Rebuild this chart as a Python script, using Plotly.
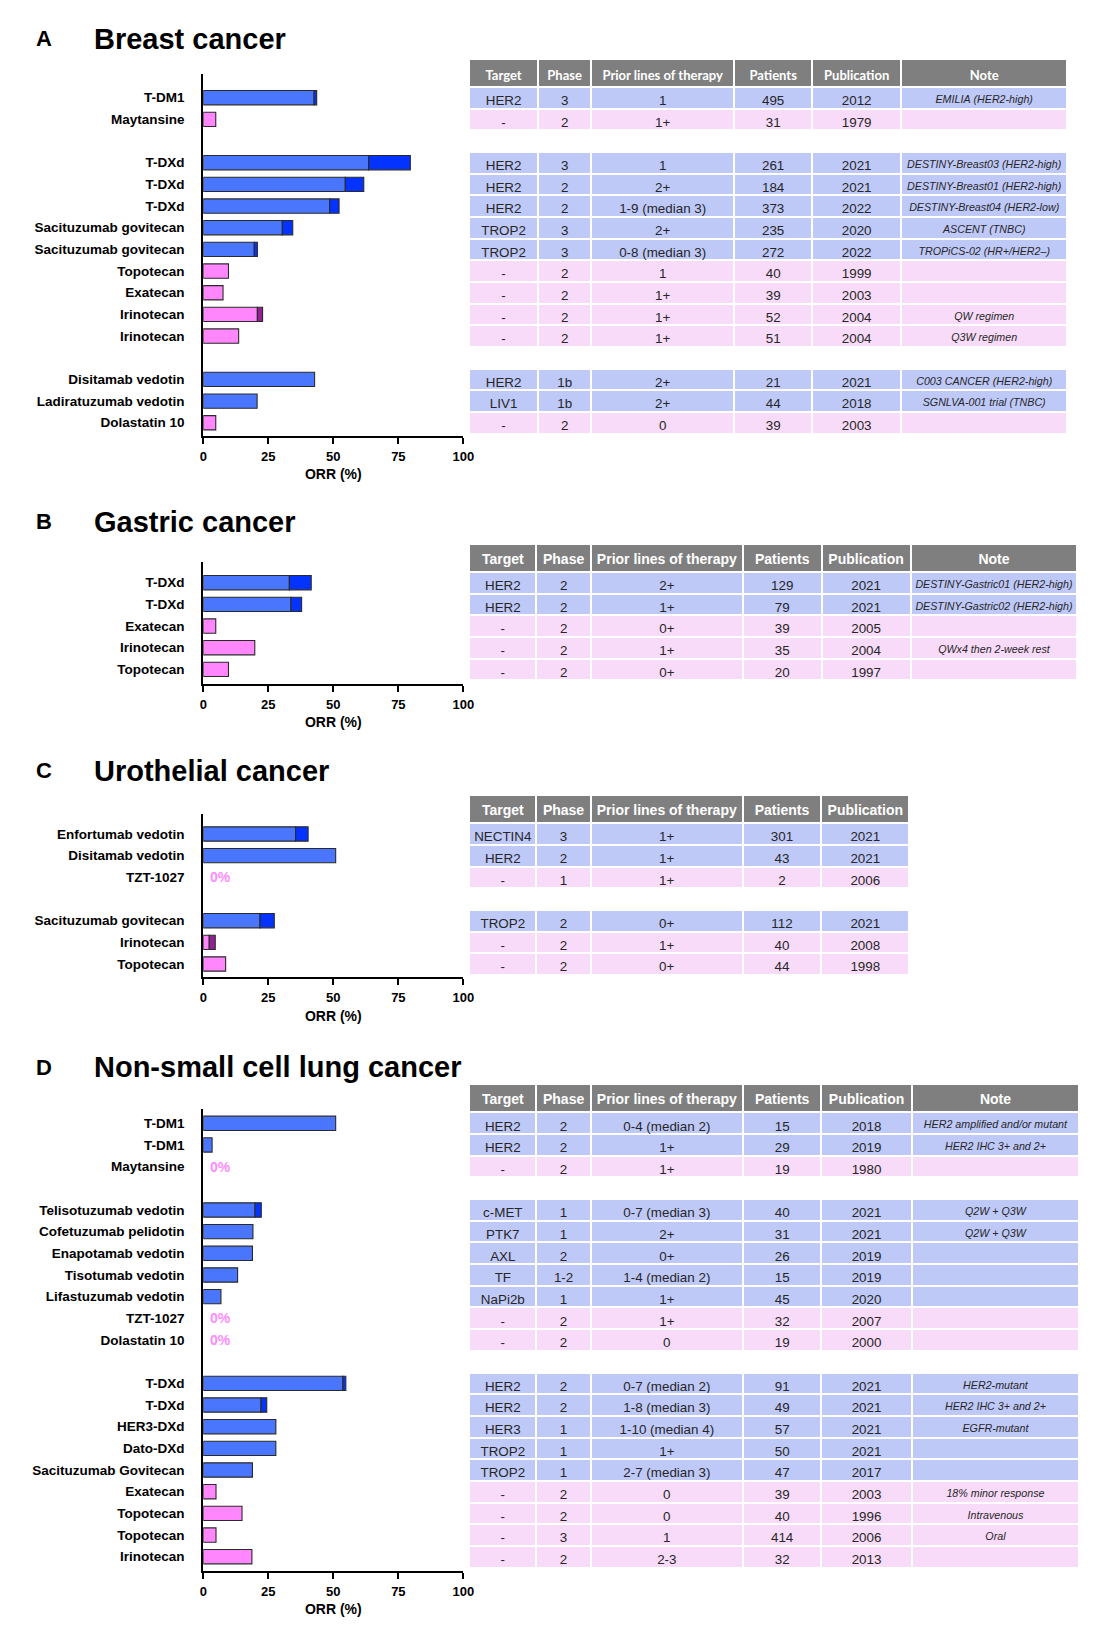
import plotly.graph_objects as go

W, H = 1108, 1636

# ---------------- DATA ----------------
# Panel A: Breast cancer
A_drugs = ["T-DM1", "Maytansine", "", "T-DXd", "T-DXd", "T-DXd",
           "Sacituzumab govitecan", "Sacituzumab govitecan", "Topotecan", "Exatecan",
           "Irinotecan", "Irinotecan", "", "Disitamab vedotin", "Ladiratuzumab vedotin", "Dolastatin 10"]
A_kind = ["adc", "free", "", "adc", "adc", "adc", "adc", "adc", "free", "free", "free", "free", "",
          "adc", "adc", "free"]
A_pr = [42.6, 4.8, None, 63.6, 54.6, 48.6, 30.4, 19.6, 9.7, 7.6, 20.8, 13.6, None, 42.8, 20.7, 4.8]
A_cr = [1.0, None, None, 16.0, 7.1, 3.6, 4.0, 1.2, None, None, 2.0, None, None, None, None, None]
A_target = ["HER2", "-", "", "HER2", "HER2", "HER2", "TROP2", "TROP2", "-", "-", "-", "-", "", "HER2", "LIV1", "-"]
A_phase = ["3", "2", "", "3", "2", "2", "3", "3", "2", "2", "2", "2", "", "1b", "1b", "2"]
A_prior = ["1", "1+", "", "1", "2+", "1-9 (median 3)", "2+", "0-8 (median 3)", "1", "1+", "1+", "1+", "",
           "2+", "2+", "0"]
A_patients = ["495", "31", "", "261", "184", "373", "235", "272", "40", "39", "52", "51", "", "21", "44", "39"]
A_pub = ["2012", "1979", "", "2021", "2021", "2022", "2020", "2022", "1999", "2003", "2004", "2004", "",
         "2021", "2018", "2003"]
A_note = ["EMILIA (HER2-high)", "", "", "DESTINY-Breast03 (HER2-high)", "DESTINY-Breast01 (HER2-high)",
          "DESTINY-Breast04 (HER2-low)", "ASCENT (TNBC)", "TROPiCS-02 (HR+/HER2–)", "", "",
          "QW regimen", "Q3W regimen", "", "C003 CANCER (HER2-high)", "SGNLVA-001 trial (TNBC)", ""]

# Panel B: Gastric cancer
B_drugs = ["T-DXd", "T-DXd", "Exatecan", "Irinotecan", "Topotecan"]
B_kind = ["adc", "adc", "free", "free", "free"]
B_pr = [33.1, 33.7, 4.8, 19.8, 9.7]
B_cr = [8.4, 4.1, None, None, None]
B_target = ["HER2", "HER2", "-", "-", "-"]
B_phase = ["2", "2", "2", "2", "2"]
B_prior = ["2+", "1+", "0+", "1+", "0+"]
B_patients = ["129", "79", "39", "35", "20"]
B_pub = ["2021", "2021", "2005", "2004", "1997"]
B_note = ["DESTINY-Gastric01 (HER2-high)", "DESTINY-Gastric02 (HER2-high)", "", "QWx4 then 2-week rest", ""]

# Panel C: Urothelial cancer
C_drugs = ["Enfortumab vedotin", "Disitamab vedotin", "TZT-1027", "", "Sacituzumab govitecan",
           "Irinotecan", "Topotecan"]
C_kind = ["adc", "adc", "free", "", "adc", "free", "free"]
C_pr = [35.5, 50.9, 0, None, 21.8, 2.3, 8.6]
C_cr = [4.8, None, None, None, 5.5, 2.3, None]
C_target = ["NECTIN4", "HER2", "-", "", "TROP2", "-", "-"]
C_phase = ["3", "2", "1", "", "2", "2", "2"]
C_prior = ["1+", "1+", "1+", "", "0+", "1+", "0+"]
C_patients = ["301", "43", "2", "", "112", "40", "44"]
C_pub = ["2021", "2021", "2006", "", "2021", "2008", "1998"]

# Panel D: Non-small cell lung cancer
D_drugs = ["T-DM1", "T-DM1", "Maytansine", "", "Telisotuzumab vedotin", "Cofetuzumab pelidotin",
           "Enapotamab vedotin", "Tisotumab vedotin", "Lifastuzumab vedotin", "TZT-1027", "Dolastatin 10", "",
           "T-DXd", "T-DXd", "HER3-DXd", "Dato-DXd", "Sacituzumab Govitecan", "Exatecan", "Topotecan",
           "Topotecan", "Irinotecan"]
D_kind = ["adc", "adc", "free", "", "adc", "adc", "adc", "adc", "adc", "free", "free", "",
          "adc", "adc", "adc", "adc", "adc", "free", "free", "free", "free"]
D_pr = [50.9, 3.4, 0, None, 19.9, 19.1, 18.9, 13.2, 6.8, 0, 0, None,
        53.7, 22.2, 27.9, 27.9, 18.9, 4.9, 14.9, 4.9, 18.7]
D_cr = [None, None, None, None, 2.4, None, None, None, None, None, None, None,
        1.1, 2.2, None, None, None, None, None, None, None]
D_target = ["HER2", "HER2", "-", "", "c-MET", "PTK7", "AXL", "TF", "NaPi2b", "-", "-", "",
            "HER2", "HER2", "HER3", "TROP2", "TROP2", "-", "-", "-", "-"]
D_phase = ["2", "2", "2", "", "1", "1", "2", "1-2", "1", "2", "2", "",
           "2", "2", "1", "1", "1", "2", "2", "3", "2"]
D_prior = ["0-4 (median 2)", "1+", "1+", "", "0-7 (median 3)", "2+", "0+", "1-4 (median 2)", "1+", "1+", "0", "",
           "0-7 (median 2)", "1-8 (median 3)", "1-10 (median 4)", "1+", "2-7 (median 3)", "0", "0", "1", "2-3"]
D_patients = ["15", "29", "19", "", "40", "31", "26", "15", "45", "32", "19", "",
              "91", "49", "57", "50", "47", "39", "40", "414", "32"]
D_pub = ["2018", "2019", "1980", "", "2021", "2021", "2019", "2019", "2020", "2007", "2000", "",
         "2021", "2021", "2021", "2021", "2017", "2003", "1996", "2006", "2013"]
D_note = ["HER2 amplified and/or mutant", "HER2 IHC 3+ and 2+", "", "", "Q2W + Q3W", "Q2W + Q3W", "", "", "",
          "", "", "", "HER2-mutant", "HER2 IHC 3+ and 2+", "EGFR-mutant", "", "", "18% minor response",
          "Intravenous", "Oral", ""]

HEADERS = ["Target", "Phase", "Prior lines of therapy", "Patients", "Publication", "Note"]

# ---------------- STYLE / GEOMETRY ----------------
ROW = 21.67
HEAD_H = 28.3
AX_L, AX_R = 202.0, 465.7
TABLE_FIT = 0.981   # plotly draws table columns slightly narrower than the domain
FONT = "Arial, Liberation Sans, sans-serif"
PR_COL = {"adc": "#4a76fd", "free": "#ff86fc"}
CR_COL = {"adc": "#0433ff", "free": "#942193"}
ROW_FILL = {"adc": "#bfc9f8", "free": "#f8dbf8", "": "#ffffff"}

panels = [
    dict(letter="A", title="Breast cancer", ty=38.5, ytop=74.0, ybot=436.0, row0=97.7,
         hfont="Lato, sans-serif", hsize=13, hshift=3.3,
         edges=[471.7, 540.0, 593.3, 735.3, 813.3, 901.7, 1067.3],
         drugs=A_drugs, kind=A_kind, pr=A_pr, cr=A_cr,
         cols=[A_target, A_phase, A_prior, A_patients, A_pub, A_note]),
    dict(letter="B", title="Gastric cancer", ty=522.0, ytop=561.7, ybot=684.0, row0=582.7,
         hfont=FONT, hsize=14, hshift=1.8,
         edges=[471.7, 538.4, 592.7, 744.0, 822.3, 911.0, 1076.9],
         drugs=B_drugs, kind=B_kind, pr=B_pr, cr=B_cr,
         cols=[B_target, B_phase, B_prior, B_patients, B_pub, B_note]),
    dict(letter="C", title="Urothelial cancer", ty=770.5, ytop=814.3, ybot=977.3, row0=834.0,
         hfont=FONT, hsize=14, hshift=1.8,
         edges=[471.7, 538.4, 592.7, 744.0, 822.3, 910.0],
         drugs=C_drugs, kind=C_kind, pr=C_pr, cr=C_cr,
         cols=[C_target, C_phase, C_prior, C_patients, C_pub]),
    dict(letter="D", title="Non-small cell lung cancer", ty=1067.0, ytop=1109.3, ybot=1571.0, row0=1123.3,
         hfont=FONT, hsize=14, hshift=1.8,
         edges=[471.7, 538.4, 592.7, 744.0, 822.3, 912.0, 1079.0],
         drugs=D_drugs, kind=D_kind, pr=D_pr, cr=D_cr,
         cols=[D_target, D_phase, D_prior, D_patients, D_pub, D_note]),
]


def py(px):
    return 1 - px / H


fig = go.Figure()
annotations = []

for i, p in enumerate(panels):
    n = i + 1
    xa = "x" if n == 1 else f"x{n}"
    ya = "y" if n == 1 else f"y{n}"
    rows = list(range(len(p["drugs"])))

    # PR (light) segment
    idx = [r for r in rows if p["pr"][r] is not None and p["pr"][r] > 0]
    fig.add_trace(go.Bar(
        x=[p["pr"][r] for r in idx], y=idx, orientation="h", width=0.66,
        marker=dict(color=[PR_COL[p["kind"][r]] for r in idx], line=dict(color="#2a2a2a", width=1.1)),
        xaxis=xa, yaxis=ya, showlegend=False, hoverinfo="x+y"))
    # CR (dark) segment
    idx2 = [r for r in rows if p["cr"][r] is not None and p["cr"][r] > 0]
    fig.add_trace(go.Bar(
        x=[p["cr"][r] for r in idx2], y=idx2, orientation="h", width=0.66,
        base=[p["pr"][r] for r in idx2],
        marker=dict(color=[CR_COL[p["kind"][r]] for r in idx2], line=dict(color="#2a2a2a", width=1.1)),
        xaxis=xa, yaxis=ya, showlegend=False, hoverinfo="x+y"))

    # 0% labels
    for r in rows:
        if p["pr"][r] == 0 and p["drugs"][r]:
            annotations.append(dict(x=2.0, y=r, xref=xa, yref=ya, text="<b>0%</b>", showarrow=False,
                                    xanchor="left", yanchor="middle",
                                    font=dict(family=FONT, size=14, color="#ff8cff")))

    # axes
    top_units = -(p["row0"] - p["ytop"]) / ROW
    bot_units = (p["ybot"] - p["row0"]) / ROW
    tv = [r for r in rows if p["drugs"][r]]
    fig.layout[("xaxis" if n == 1 else f"xaxis{n}")] = dict(
        domain=[AX_L / W, AX_R / W], anchor=ya, range=[0, 100], tickvals=[0, 25, 50, 75, 100],
        showline=True, linewidth=2, linecolor="black", ticks="outside", ticklen=6, tickwidth=2,
        tickcolor="black", showgrid=False, zeroline=False, ticklabelstandoff=1,
        tickfont=dict(family=FONT, size=13, color="black", weight="bold"),
        title=dict(text="<b>ORR (%)</b>", standoff=7, font=dict(family=FONT, size=14, color="black")))
    fig.layout[("yaxis" if n == 1 else f"yaxis{n}")] = dict(
        domain=[py(p["ybot"]), py(p["ytop"])], anchor=xa, range=[bot_units, top_units],
        tickvals=tv, ticktext=[p["drugs"][r] for r in tv], showline=True, linewidth=2, linecolor="black",
        ticks="", showgrid=False, zeroline=False, ticklabelstandoff=14,
        tickfont=dict(family=FONT, size=13.5, color="black", weight="bold"))

    # panel titles
    annotations.append(dict(x=30.5 / W, y=py(p["ty"]), xref="paper", yref="paper", text=f"<b>{p['letter']}</b>",
                            showarrow=False, xanchor="left", yanchor="middle",
                            font=dict(family=FONT, size=22, color="black")))
    annotations.append(dict(x=89.5 / W, y=py(p["ty"]), xref="paper", yref="paper", text=f"<b>{p['title']}</b>",
                            showarrow=False, xanchor="left", yanchor="middle",
                            font=dict(family=FONT, size=29, color="black")))

    # table
    ncol = len(p["cols"])
    edges = p["edges"]
    widths = [edges[k + 1] - edges[k] for k in range(ncol)]
    cell_vals = []
    for k, col in enumerate(p["cols"]):
        if k == 5:
            cell_vals.append([v.replace(" ", "\u00a0") for v in col])
        else:
            cell_vals.append(list(col))
    fills = [[ROW_FILL[kd] for kd in p["kind"]] for _ in range(ncol)]
    table_top = p["row0"] - ROW / 2 - HEAD_H
    table_bot = table_top + HEAD_H + ROW * len(rows) + 3
    right = edges[0] + (edges[-1] - edges[0]) / TABLE_FIT
    dom_x = [edges[0] / W, min(right / W, 1.0)]
    fig.add_trace(go.Table(
        domain=dict(x=dom_x, y=[py(table_bot), py(table_top)]),
        columnwidth=widths,
        header=dict(values=[""] * ncol, height=HEAD_H, fill_color="#7f7f7f",
                    line=dict(color="white", width=2)),
        cells=dict(values=cell_vals, height=ROW, fill_color=fills, line=dict(color="white", width=2),
                   align="center",
                   font=dict(family=FONT, size=[13.4, 13.4, 13.4, 13.4, 13.4, 10.7][:ncol], color="#262626",
                             style=["normal", "normal", "normal", "normal", "normal", "italic"][:ncol])),
    ))
    # header labels (same column grid, nudged down so text sits centred in the grey band)
    shift = p["hshift"]
    fig.add_trace(go.Table(
        domain=dict(x=dom_x, y=[py(table_top + HEAD_H), py(table_top + shift)]),
        columnwidth=widths,
        header=dict(values=[h.replace(" ", "\u00a0") for h in HEADERS[:ncol]], height=HEAD_H - shift,
                    fill_color="rgba(0,0,0,0)", line=dict(color="rgba(0,0,0,0)", width=0), align="center",
                    font=dict(family=p["hfont"], size=p["hsize"], color="white", weight="bold")),
    ))

fig.update_layout(width=W, height=H, margin=dict(l=0, r=0, t=0, b=0), barmode="overlay",
                  plot_bgcolor="white", paper_bgcolor="white", annotations=annotations, showlegend=False)

fig.write_html("out.html", config={"displayModeBar": False},
               post_script="document.body.style.margin='0px';document.body.style.overflow='hidden';")
